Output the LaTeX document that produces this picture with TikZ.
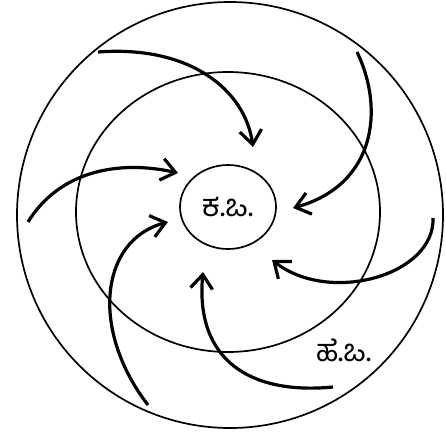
\documentclass[tikz,border=0pt]{standalone}
\usepackage{fontspec}
\newfontfamily\kannada[Script=Kannada]{Hind Mysuru}
\usetikzlibrary{arrows.meta,shapes.geometric}
\tikzset{
  ring/.style={line width=1.7pt},
  flow/.style={line width=3.2pt,-{Straight Barb[length=14pt,width=22pt,line width=3.2pt]}},
  zone/.style={font=\kannada\fontsize{31}{33}\selectfont}
}
\begin{document}
\begin{tikzpicture}[x=1pt,y=-1pt]
\useasboundingbox (0,0) rectangle (446,432);
\draw[ring] (230,215) circle (213);
\draw[ring] (228,212) ellipse (152 and 140);
\node[draw, ring, ellipse, minimum width=96pt, minimum height=84pt, inner sep=0pt, zone] (core) at (228,207) {ಕ.ಒ.};
\node[zone, inner sep=0pt] (shell) at (344,350) {ಹೆ.ಒ.};

\coordinate (s1) at (98,52);   \coordinate (t1) at (253,147);
\coordinate (s2) at (357,52);  \coordinate (t2) at (293,208);
\coordinate (s3) at (433,218); \coordinate (t3) at (272,260);
\coordinate (s4) at (333,387); \coordinate (t4) at (203,272);
\coordinate (s5) at (148,405); \coordinate (t5) at (168,222);
\coordinate (s6) at (28,222);  \coordinate (t6) at (178,173);

\draw[flow] (s1) .. controls (190,45) and (245,90) .. (t1);
\draw[flow] (s2) .. controls (385,110) and (375,185) .. (t2);
\draw[flow] (s3) .. controls (435,275) and (330,305) .. (t3);
\draw[flow] (s4) .. controls (250,395) and (195,360) .. (t4);
\draw[flow] (s5) .. controls (90,330) and (100,240) .. (t5);
\draw[flow] (s6) .. controls (60,170) and (120,160) .. (t6);
\end{tikzpicture}
\end{document}
